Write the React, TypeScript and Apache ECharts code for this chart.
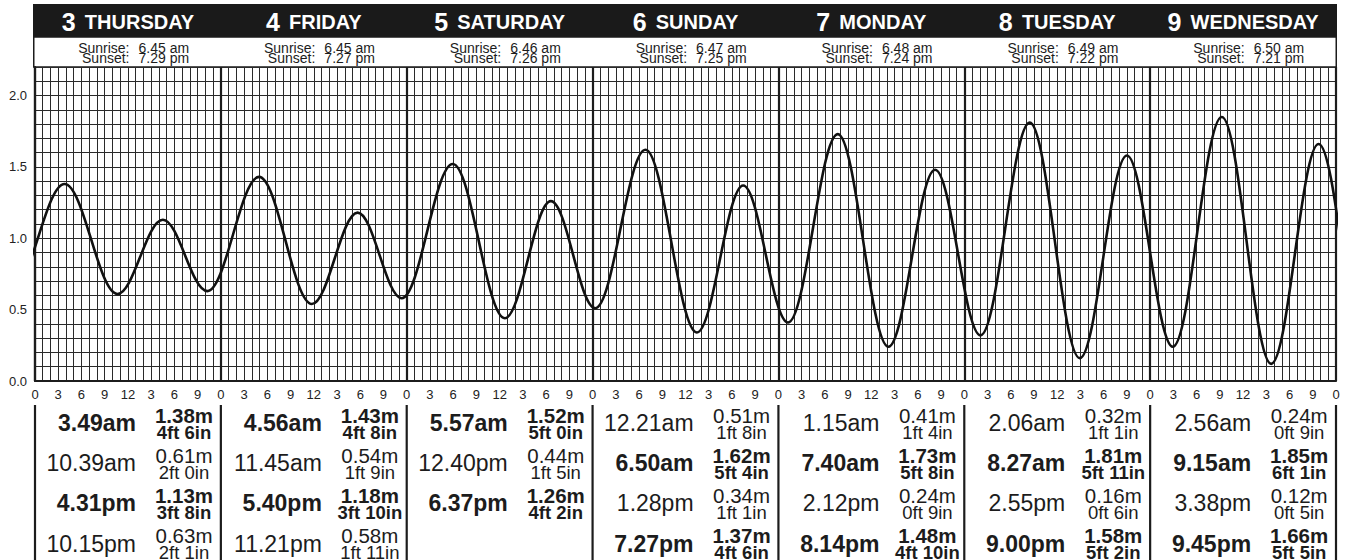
import React, { useEffect, useRef } from 'react';
import * as echarts from 'echarts';

// ---------- data ----------
const dayNumbers = ['3', '4', '5', '6', '7', '8', '9'];
const dayNames = ['THURSDAY', 'FRIDAY', 'SATURDAY', 'SUNDAY', 'MONDAY', 'TUESDAY', 'WEDNESDAY'];
const sunriseTimes = ['6.45 am', '6.45 am', '6.46 am', '6.47 am', '6.48 am', '6.49 am', '6.50 am'];
const sunsetTimes = ['7.29 pm', '7.27 pm', '7.26 pm', '7.25 pm', '7.24 pm', '7.22 pm', '7.21 pm'];

const tideTimes: string[][] = [
  ['3.49am', '10.39am', '4.31pm', '10.15pm'],
  ['4.56am', '11.45am', '5.40pm', '11.21pm'],
  ['5.57am', '12.40pm', '6.37pm'],
  ['12.21am', '6.50am', '1.28pm', '7.27pm'],
  ['1.15am', '7.40am', '2.12pm', '8.14pm'],
  ['2.06am', '8.27am', '2.55pm', '9.00pm'],
  ['2.56am', '9.15am', '3.38pm', '9.45pm'],
];
const tideMetres: number[][] = [
  [1.38, 0.61, 1.13, 0.63],
  [1.43, 0.54, 1.18, 0.58],
  [1.52, 0.44, 1.26],
  [0.51, 1.62, 0.34, 1.37],
  [0.41, 1.73, 0.24, 1.48],
  [0.32, 1.81, 0.16, 1.58],
  [0.24, 1.85, 0.12, 1.66],
];
const tideFeet: string[][] = [
  ['4ft 6in', '2ft 0in', '3ft 8in', '2ft 1in'],
  ['4ft 8in', '1ft 9in', '3ft 10in', '1ft 11in'],
  ['5ft 0in', '1ft 5in', '4ft 2in'],
  ['1ft 8in', '5ft 4in', '1ft 1in', '4ft 6in'],
  ['1ft 4in', '5ft 8in', '0ft 9in', '4ft 10in'],
  ['1ft 1in', '5ft 11in', '0ft 6in', '5ft 2in'],
  ['0ft 9in', '6ft 1in', '0ft 5in', '5ft 5in'],
];
const tideKinds: string[][] = [
  ['H', 'L', 'H', 'L'],
  ['H', 'L', 'H', 'L'],
  ['H', 'L', 'H'],
  ['L', 'H', 'L', 'H'],
  ['L', 'H', 'L', 'H'],
  ['L', 'H', 'L', 'H'],
  ['L', 'H', 'L', 'H'],
];
// tides just outside the displayed week (estimated from the curve at the edges)
const tidesBefore = [
  { day: -1, time: '2.20pm', metres: 1.08 },
  { day: -1, time: '9.10pm', metres: 0.66 },
];
const tidesAfter = [
  { day: 7, time: '4.00am', metres: 0.1 },
  { day: 7, time: '10.15am', metres: 1.88 },
];

const yTickValues = [0, 0.5, 1.0, 1.5, 2.0];

// ---------- layout ----------
const FONT = '"Liberation Sans", Arial, Helvetica, sans-serif';
const GRID_LEFT = 35;
const GRID_RIGHT_X = 1336;
const GRID_TOP = 67;
const GRID_BOTTOM_Y = 381;
const DAY_W = (GRID_RIGHT_X - GRID_LEFT) / 7;
const INK = '#1c1c1c';

function parseTime(t: string): number {
  const m = t.match(/^(\d+)\.(\d+)(am|pm)$/);
  if (!m) return 0;
  let h = parseInt(m[1], 10);
  const min = parseInt(m[2], 10);
  if (m[3] === 'pm' && h !== 12) h += 12;
  if (m[3] === 'am' && h === 12) h = 0;
  return h + min / 60;
}

function buildCurve(): number[][] {
  const pts: number[][] = [];
  tidesBefore.forEach((t) => pts.push([t.day * 24 + parseTime(t.time), t.metres]));
  tideTimes.forEach((row, d) => {
    row.forEach((t, i) => {
      pts.push([d * 24 + parseTime(t), tideMetres[d][i]]);
    });
  });
  tidesAfter.forEach((t) => pts.push([t.day * 24 + parseTime(t.time), t.metres]));
  return pts;
}

function txt(x: number, y: number, text: string, font: string, align: string, lineHeight: number) {
  return {
    type: 'text',
    x,
    y,
    style: {
      text,
      font,
      fill: INK,
      lineHeight,
      align,
      verticalAlign: 'middle',
      textAlign: align,
      textVerticalAlign: 'middle',
    },
  };
}

function buildGraphics(): any[] {
  const els: any[] = [];
  els.push({
    type: 'rect',
    shape: { x: 33, y: 4, width: 1304, height: 33 },
    style: { fill: '#1a1a1a' },
  });
  els.push({
    type: 'rect',
    shape: { x: 33.75, y: 37, width: 1302.5, height: 30 },
    style: { fill: '#ffffff', stroke: INK, lineWidth: 1.5 },
  });
  for (let d = 0; d < 7; d++) {
    const x0 = GRID_LEFT + DAY_W * d;
    els.push({
      type: 'text',
      x: x0 + DAY_W / 2,
      y: 22,
      style: {
        text: `{n|${dayNumbers[d]}}{s| }{d|${dayNames[d]}}`,
        font: `bold 24px ${FONT}`,
        fill: '#ffffff',
        align: 'center',
        verticalAlign: 'middle',
        textAlign: 'center',
        textVerticalAlign: 'middle',
        rich: {
          n: { font: `bold 25px ${FONT}`, fill: '#ffffff', lineHeight: 28 },
          s: { font: `bold 33px ${FONT}`, fill: '#ffffff', lineHeight: 28 },
          d: { font: `bold 20px ${FONT}`, fill: '#ffffff', lineHeight: 28 },
        },
      },
    });
    const sunLines = [
      ['Sunrise:', sunriseTimes[d], 52.5],
      ['Sunset:', sunsetTimes[d], 63],
    ] as [string, string, number][];
    sunLines.forEach(([lab, val, base]) => {
      els.push(txt(x0 + 94.5, base - 0.35 * 14, lab, `14px ${FONT}`, 'right', 10));
      els.push(txt(x0 + 103.5, base - 0.35 * 14, val, `14px ${FONT}`, 'left', 10));
    });
    // tide table
    tideTimes[d].forEach((t, i) => {
      const base = 431 + 40.2 * i;
      const bold = tideKinds[d][i] === 'H' ? 'bold ' : '';
      els.push(txt(x0 + 101, base - 0.35 * 23, t, `${bold}23px ${FONT}`, 'right', 24));
      els.push(
        txt(x0 + 149, base - 8.5 - 0.35 * 20.5, tideMetres[d][i].toFixed(2) + 'm', `${bold}20.5px ${FONT}`, 'center', 15)
      );
      els.push(txt(x0 + 149, base + 7.5 - 0.35 * 18.5, tideFeet[d][i], `${bold}18.5px ${FONT}`, 'center', 15));
    });
  }
  for (let d = 0; d <= 7; d++) {
    const x = GRID_LEFT + DAY_W * d;
    els.push({
      type: 'line',
      shape: { x1: x, y1: 405, x2: x, y2: 560 },
      style: { stroke: INK, lineWidth: 2.2 },
    });
  }
  return els;
}

export default function App() {
  const ref = useRef<HTMLDivElement>(null);
  useEffect(() => {
    if (!ref.current) return;
    document.body.style.margin = '0';
    const chart = echarts.init(ref.current, undefined, { renderer: 'svg' });
    const option: any = {
      animation: false,
      backgroundColor: '#ffffff',
      grid: {
        left: GRID_LEFT,
        right: 1353 - GRID_RIGHT_X,
        top: GRID_TOP,
        bottom: 560 - GRID_BOTTOM_Y,
        containLabel: false,
      },
      xAxis: [
        {
          type: 'value',
          min: 0,
          max: 168,
          interval: 3,
          axisLine: { show: true, onZero: false, lineStyle: { color: INK, width: 2.2 } },
          axisTick: { show: false },
          minorTick: { show: false, splitNumber: 3 },
          minorSplitLine: { show: true, lineStyle: { color: '#2a2a2a', width: 1 } },
          splitLine: { show: true, lineStyle: { color: '#2a2a2a', width: 1 } },
          axisLabel: {
            show: true,
            margin: 7,
            fontSize: 13,
            fontFamily: FONT,
            color: '#222',
            showMinLabel: true,
            showMaxLabel: true,
            formatter: (v: number) => {
              const h = Math.round(v) % 24;
              return String(h > 12 ? h - 12 : h);
            },
          },
        },
        {
          type: 'value',
          min: 0,
          max: 168,
          interval: 24,
          position: 'bottom',
          axisLine: { show: false },
          axisTick: { show: false },
          axisLabel: { show: false },
          splitLine: { show: true, lineStyle: { color: INK, width: 2.2 } },
        },
      ],
      yAxis: {
        type: 'value',
        min: 0,
        max: 2.2,
        interval: 0.1,
        axisLine: { show: true, lineStyle: { color: INK, width: 2.2 } },
        axisTick: { show: false },
        splitLine: { show: true, lineStyle: { color: '#2a2a2a', width: 1 } },
        axisLabel: {
          margin: 8,
          fontSize: 13,
          fontFamily: FONT,
          color: '#222',
          showMinLabel: true,
          showMaxLabel: true,
          formatter: (v: number) => {
            const hit = yTickValues.find((t) => Math.abs(t - v) < 1e-6);
            return hit === undefined ? '' : hit.toFixed(1);
          },
        },
      },
      series: [
        {
          type: 'line',
          xAxisIndex: 0,
          data: buildCurve(),
          smooth: 0.36,
          smoothMonotone: 'x',
          showSymbol: false,
          symbol: 'none',
          clip: true,
          lineStyle: { color: '#111', width: 2.6 },
          z: 10,
        },
      ],
      graphic: buildGraphics(),
    };
    chart.setOption(option);
    return () => {
      chart.dispose();
    };
  }, []);
  return (
    <div
      ref={ref}
      style={{ position: 'fixed', left: 0, top: 0, width: 1353, height: 560, background: '#fff' }}
    />
  );
}
